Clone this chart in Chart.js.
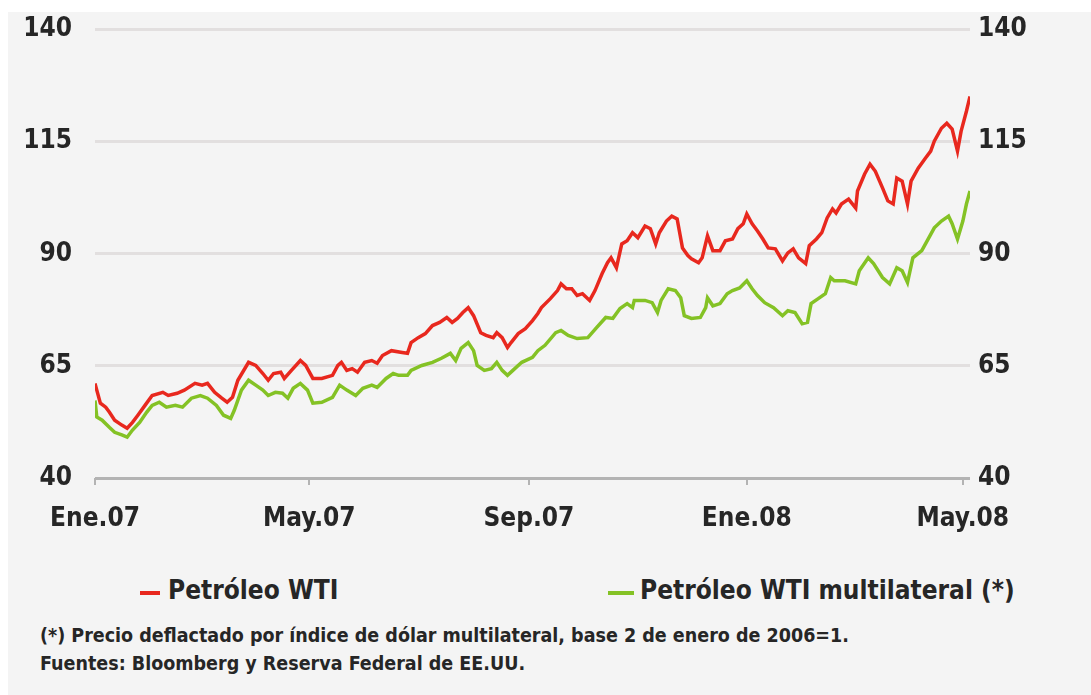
<!DOCTYPE html>
<html>
<head>
<meta charset="utf-8">
<script src="https://cdn.jsdelivr.net/npm/chart.js@4.4.0/dist/chart.umd.min.js"></script>
<style>
    html, body { margin: 0; padding: 0; background: #ffffff; }
    #panel { position: absolute; left: 8px; top: 12px; width: 1083px; height: 683px; background: #f4f4f4; }
    #wrap { position: absolute; left: 0; top: -9px; width: 1091px; height: 554px; }
    .txt { position: absolute; font-family: "DejaVu Sans Condensed", "DejaVu Sans", sans-serif; font-weight: bold; color: #262626; white-space: nowrap; }
    .leg { font-size: 26px; line-height: 30px; }
    .mark { position: absolute; height: 4px; }
    .note { font-size: 19.5px; line-height: 22px; }
</style>
</head>
<body>
<div id="panel"></div>
<div id="wrap"><canvas id="oil-plot" width="1091" height="554"></canvas></div>

<div class="mark" style="left:140px; top:591px; width:20px; background:#e8281e"></div>
<div class="txt leg" style="left:168px; top:575px">Petróleo WTI</div>
<div class="mark" style="left:608px; top:591px; width:26px; background:#84c225"></div>
<div class="txt leg" style="left:640px; top:575px">Petróleo WTI multilateral (*)</div>

<div class="txt note" style="left:40px; top:625px">(*) Precio deflactado por índice de dólar multilateral, base 2 de enero de 2006=1.</div>
<div class="txt note" style="left:40px; top:653px">Fuentes: Bloomberg y Reserva Federal de EE.UU.</div>

<script>
// days counted from 1 Jan 2007
const tickDays = [0, 120, 243, 365, 486]
const tickLabels = ['Ene.07', 'May.07', 'Sep.07', 'Ene.08', 'May.08']
const yTicks = [40, 65, 90, 115, 140]

// Petróleo WTI
const wtiDays = [0, 1, 3, 6, 8, 11, 15, 18, 21, 24, 28, 32, 38, 41, 46, 50, 56, 60, 63, 67, 71, 74, 77, 80,
    86, 90, 94, 97, 100, 104, 106, 110, 115, 118, 122, 127, 133, 136, 138, 141, 144, 147, 151, 155, 158, 161,
    166, 172, 175, 177, 181, 185, 189, 193, 197, 200, 203, 206, 209, 212, 216, 219, 223, 225, 228, 231, 233,
    237, 241, 245, 248, 250, 255, 259, 261, 264, 267, 270, 273, 277, 280, 284, 287, 289, 292, 295, 298, 301,
    304, 308, 311, 314, 316, 320, 323, 326, 329, 332, 334, 338, 340, 343, 346, 350, 353, 357, 360, 363, 365,
    368, 371, 374, 377, 381, 385, 388, 391, 394, 398, 400, 404, 407, 410, 413, 415, 418, 422, 426, 427, 431,
    434, 437, 441, 444, 447, 449, 452, 455, 457, 461, 465, 468, 470, 474, 477, 480, 483, 485, 488, 490]
const wtiValues = [61.1, 59.6, 56.7, 55.8, 54.7, 52.9, 51.8, 51.1, 52.4, 54.0, 56.2, 58.4, 59.1, 58.4, 58.9, 59.6,
    61.1, 60.7, 61.1, 59.1, 57.8, 56.9, 58.0, 61.8,
    65.8, 65.1, 63.3, 61.8, 63.3, 63.6, 62.2, 64.0, 66.2, 65.1, 62.2, 62.2, 62.9, 65.1, 65.8, 64.0, 64.4, 63.6,
    65.8, 66.2, 65.6, 67.3,
    68.4, 68.0, 67.8, 70.2, 71.3, 72.2, 74.0, 74.7, 75.8, 74.7, 75.6, 76.9, 78.0, 76.2, 72.4, 71.8, 71.3, 72.4,
    71.3, 69.1, 70.2,
    72.2, 73.3, 75.1, 76.7, 78.0, 80.0, 81.8, 83.3, 82.2, 82.2, 80.7, 81.1, 79.6, 81.8, 85.6, 88.0, 89.1, 86.9,
    92.2, 92.9, 94.7,
    93.6, 96.2, 95.6, 92.2, 94.7, 97.3, 98.4, 97.8, 91.3, 89.6, 88.9, 88.0, 89.1, 94.0, 90.7, 90.7, 92.9, 93.3,
    95.6, 96.7, 98.9,
    96.7, 95.1, 93.3, 91.3, 91.1, 88.4, 90.2, 91.1, 89.1, 87.8, 91.8, 93.3, 94.7, 98.0, 100.0, 99.1, 101.1, 102.2,
    100.2, 104.0, 107.8,
    110.0, 108.4, 104.7, 101.8, 101.1, 106.9, 106.2, 101.1, 106.2, 109.1, 111.3, 112.9, 115.1, 118.0, 119.1, 117.8,
    112.9, 117.3, 121.8, 125.1]

// Petróleo WTI multilateral (*)
const multiDays = [0, 1, 4, 8, 11, 15, 18, 21, 25, 29, 32, 36, 40, 45, 49, 54, 59, 63, 68, 72, 76, 78, 82, 86,
    90, 94, 97, 101, 105, 108, 111, 115, 119, 122, 127, 133, 137, 141, 146, 150, 155, 158, 163, 167, 170, 175,
    177, 183, 189, 194, 199, 202, 205, 209, 212, 214, 218, 222, 225, 228, 231, 234, 239, 245, 248, 252, 258,
    261, 265, 270, 276, 281, 286, 290, 294, 298, 301, 302, 308, 312, 315, 317, 321, 325, 328, 330, 334, 339,
    342, 343, 346, 350, 354, 357, 361, 365, 368, 371, 375, 380, 385, 388, 392, 396, 399, 401, 405, 409, 412,
    414, 420, 426, 428, 433, 436, 441, 445, 449, 452, 455, 458, 463, 466, 470, 474, 478, 480, 483, 486, 488, 490]
const multiValues = [57.3, 53.6, 52.9, 51.3, 50.2, 49.6, 49.1, 50.7, 52.4, 54.7, 56.2, 56.9, 55.8, 56.2, 55.8,
    57.8, 58.4, 57.8, 56.2, 54.0, 53.3, 55.1, 59.6, 61.8,
    60.7, 59.6, 58.4, 59.1, 58.9, 57.8, 60.0, 61.1, 59.6, 56.7, 56.9, 58.0, 60.7, 59.6, 58.4, 60.0, 60.7, 60.2,
    62.2, 63.3, 62.9, 62.9,
    64.0, 65.1, 65.8, 66.7, 67.8, 66.2, 68.9, 70.2, 68.4, 65.1, 64.0, 64.4, 65.8, 64.0, 62.9, 64.0, 65.8, 66.9,
    68.4, 69.6, 72.4,
    72.9, 71.8, 71.1, 71.3, 73.6, 75.8, 75.6, 77.8, 78.9, 78.0, 79.6, 79.6, 79.1, 76.9, 79.6, 82.2, 81.8, 80.2,
    76.2, 75.6, 75.8,
    78.0, 80.2, 78.4, 78.9, 81.1, 81.8, 82.4, 84.0, 82.2, 80.7, 79.1, 78.0, 76.2, 77.3, 76.9, 74.4, 74.7, 78.9,
    80.0, 81.1, 84.7,
    84.0, 84.0, 83.3, 86.2, 89.1, 87.8, 84.7, 83.3, 86.9, 86.2, 83.6, 89.1, 90.7, 92.9, 95.8, 97.3, 98.4, 96.7,
    93.3, 97.3, 101.1, 104.0]

document.addEventListener("DOMContentLoaded", () => {

    const font_family = '"DejaVu Sans Condensed", "DejaVu Sans", sans-serif'
    const tick_font = {family: font_family, size: 26, weight: 'bold'}

    const toPoints = (days, vals) => days.map((d, i) => ({x: d, y: vals[i]}))

    new Chart(document.getElementById("oil-plot"), {
        type: 'line',
        data: {
            datasets: [
                {label: 'Petróleo WTI', data: toPoints(wtiDays, wtiValues), borderColor: '#e8281e',
                    borderWidth: 3.5, pointRadius: 0, tension: 0, yAxisID: 'y'},
                {label: 'Petróleo WTI multilateral (*)', data: toPoints(multiDays, multiValues), borderColor: '#84c225',
                    borderWidth: 3.5, pointRadius: 0, tension: 0, yAxisID: 'y'}
            ]
        },
        options: {
            responsive: false,
            animation: false,
            layout: {padding: {top: 18, left: 0, right: 0, bottom: 0}},
            plugins: {
                legend: {display: false},
                tooltip: {enabled: false}
            },
            scales: {
                x: {
                    type: 'linear',
                    min: 0,
                    max: 490,
                    afterBuildTicks: (scale) => {
                        scale.ticks = tickDays.map(v => ({value: v}))
                    },
                    afterFit: (scale) => { scale.height = 67 },
                    border: {display: false},
                    grid: {drawOnChartArea: false, drawTicks: true, tickLength: 7, color: '#b3b3b3', lineWidth: 2},
                    ticks: {
                        font: tick_font,
                        color: '#262626',
                        padding: 19,
                        maxRotation: 0,
                        autoSkip: false,
                        callback: (v) => tickLabels[tickDays.indexOf(v)]
                    }
                },
                y: {
                    position: 'left',
                    min: 40,
                    max: 140,
                    afterBuildTicks: (scale) => {
                        scale.ticks = yTicks.map(v => ({value: v}))
                    },
                    afterFit: (scale) => { scale.width = 95 },
                    border: {display: false},
                    grid: {
                        drawTicks: false,
                        lineWidth: 3,
                        color: (c) => c.tick && c.tick.value === 40 ? '#b3b3b3' : '#e2dfdf'
                    },
                    ticks: {font: tick_font, color: '#262626', padding: 23}
                },
                y2: {
                    position: 'right',
                    min: 40,
                    max: 140,
                    afterBuildTicks: (scale) => {
                        scale.ticks = yTicks.map(v => ({value: v}))
                    },
                    afterFit: (scale) => { scale.width = 121 },
                    border: {display: false},
                    grid: {display: false, drawTicks: false},
                    ticks: {font: tick_font, color: '#262626', padding: 8}
                }
            }
        }
    })
})
</script>
</body>
</html>
